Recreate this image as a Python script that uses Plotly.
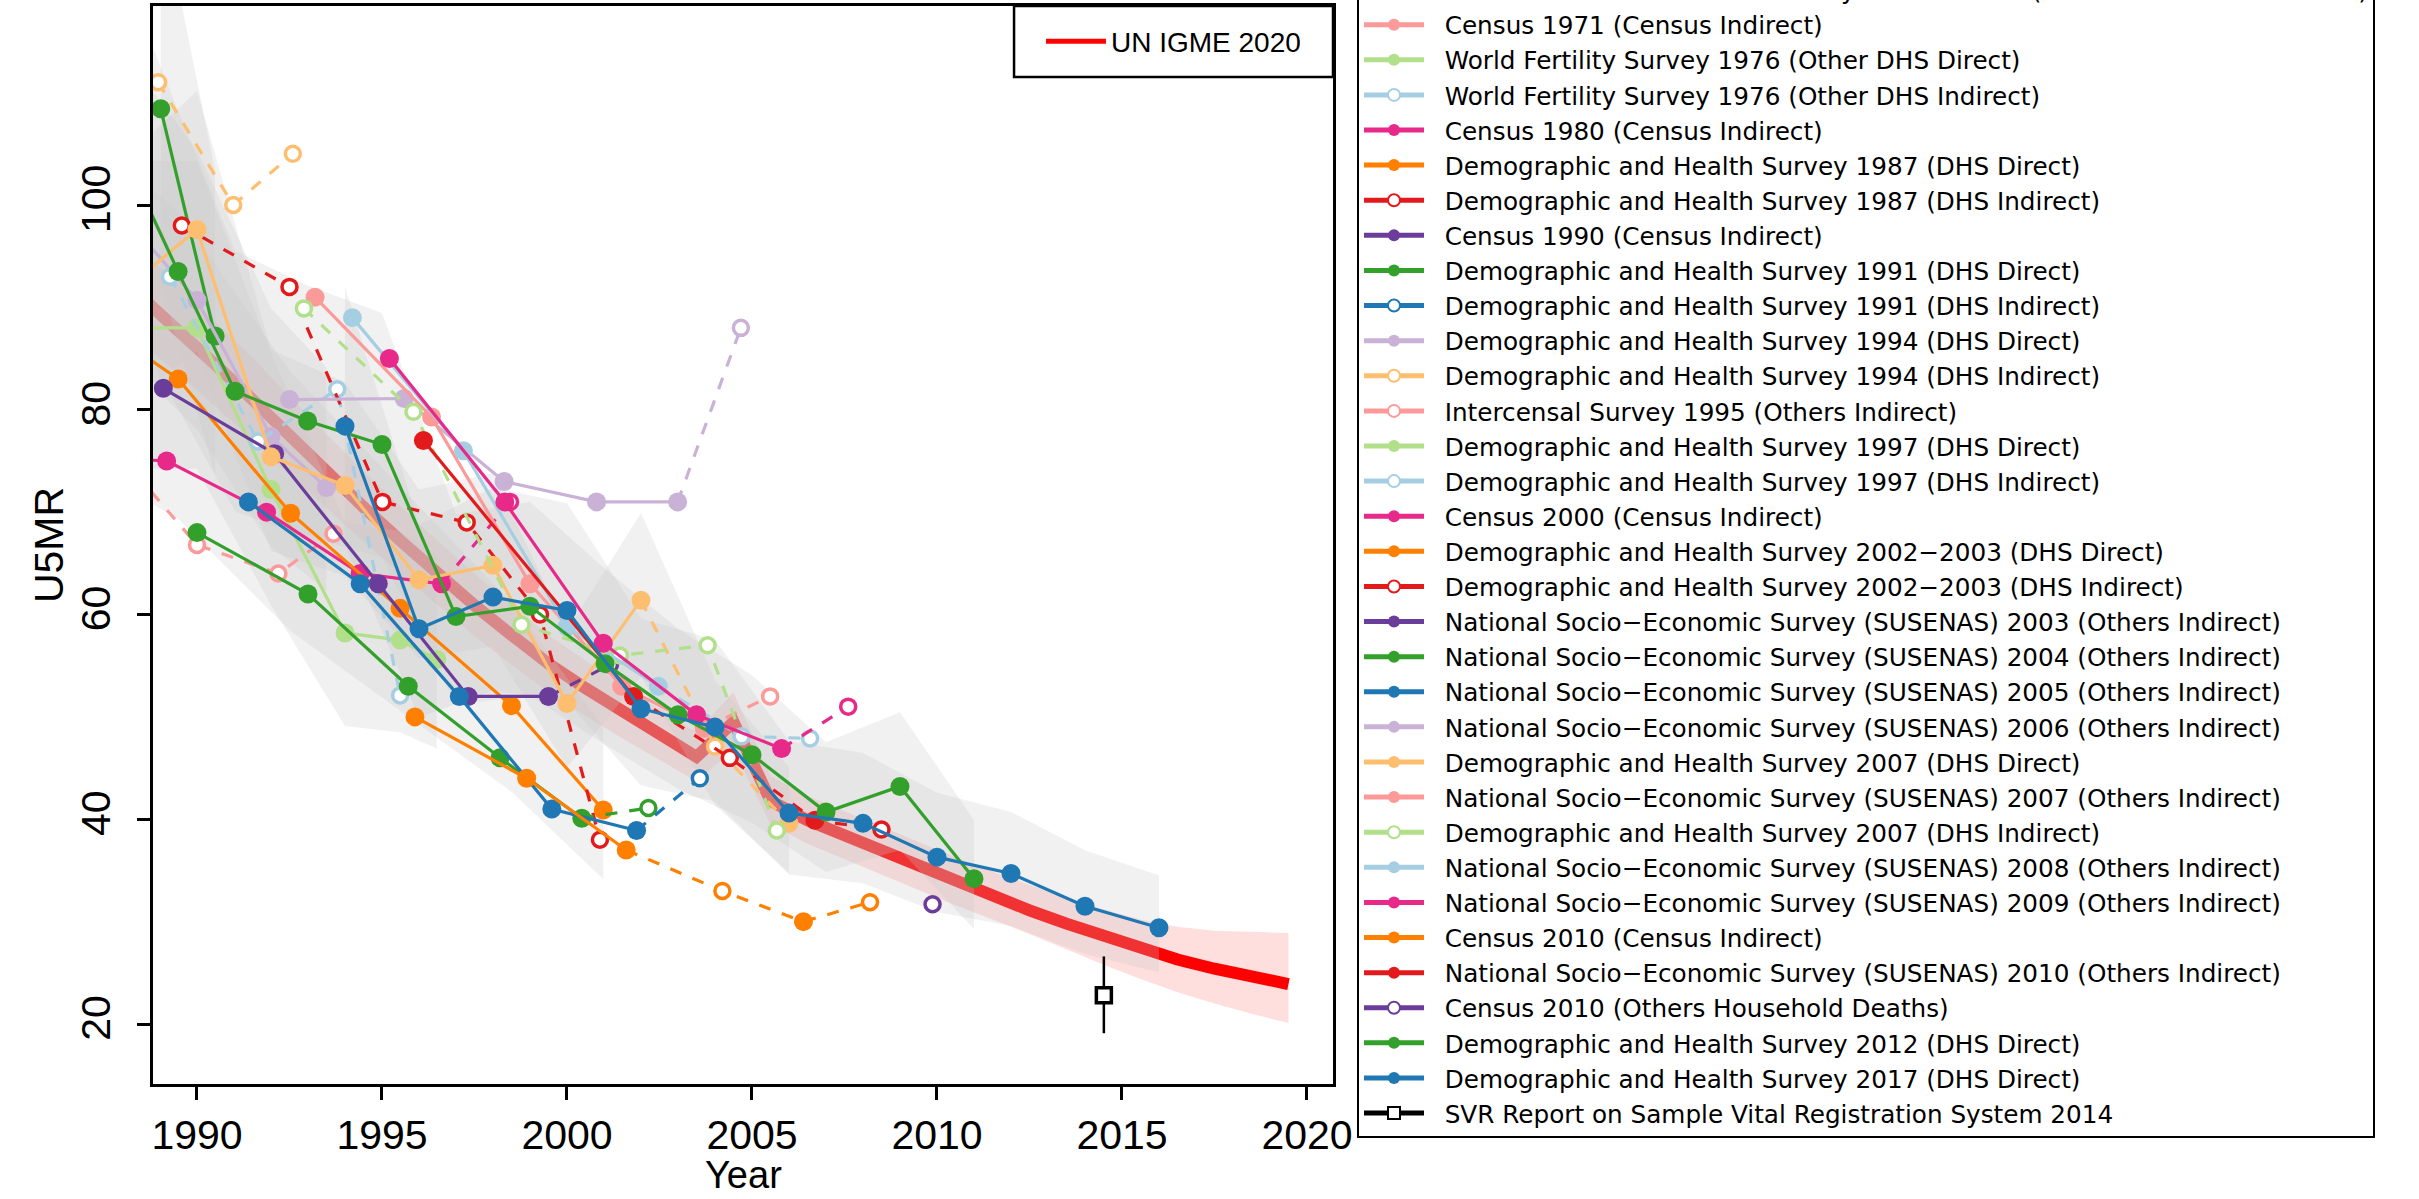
import math
import plotly.graph_objects as go

# ---------------------------------------------------------------------------
# Indonesia: under-five mortality rate (deaths per 1000 live births)
# ---------------------------------------------------------------------------

# UN IGME 2020 estimate with its uncertainty band
igme_year = [1988.5, 1989.5, 1990.5, 1991.5, 1992.5, 1993.5, 1994.5, 1995.5,
             1996.5, 1997.5, 1998.5, 1999.5, 2000.5, 2001.5, 2002.5, 2003.5,
             2004.5, 2005.5, 2006.5, 2007.5, 2008.5, 2009.5, 2010.5, 2011.5,
             2012.5, 2013.5, 2014.5, 2015.5, 2016.5, 2017.5, 2018.5, 2019.5]
igme_u5mr = [91.0, 87.8, 84.4, 81.0, 77.4, 73.9, 70.5, 67.2,
             64.0, 60.9, 58.0, 55.2, 52.8, 50.5, 48.3, 46.1,
             49.5, 41.8, 39.9, 38.4, 36.9, 35.4, 33.9, 32.5,
             31.1, 29.8, 28.6, 27.4, 26.3, 25.4, 24.6, 23.9]
igme_lower = [86.5, 83.5, 80.3, 77.1, 73.7, 70.4, 67.1, 64.0,
              60.9, 57.9, 55.1, 52.4, 50.1, 47.9, 45.8, 43.7,
              46.8, 39.5, 37.6, 36.1, 34.6, 33.1, 31.6, 30.2,
              28.8, 27.3, 25.8, 24.4, 23.1, 22.0, 21.0, 20.1]
igme_upper = [95.6, 92.2, 88.6, 85.1, 81.3, 77.6, 74.0, 70.6,
              67.2, 64.0, 60.9, 58.0, 55.5, 53.1, 50.8, 48.5,
              52.4, 44.2, 42.3, 40.8, 39.3, 37.8, 36.3, 34.9,
              33.6, 32.3, 31.2, 30.2, 29.5, 29.1, 29.0, 28.9]

# Survey / census series: reference year, U5MR, excluded flag (1 = excluded)
dhs1991d_year = [1989.02, 1990.49]
dhs1991d_u5mr = [109.4, 87.2]
dhs1991d_excl = [0, 0]

dhs1994d_year = [1988.0, 1990.0, 1992.0, 1993.5]
dhs1994d_u5mr = [99.0, 90.7, 77.4, 72.4]
dhs1994d_excl = [0, 0, 0, 0]

dhs1994i_year = [1988.95, 1990.98, 1992.59]
dhs1994i_u5mr = [112.0, 100.0, 105.0]
dhs1994i_excl = [1, 1, 1]

ics1995_year = [1987.5, 1990.0, 1992.2, 1993.69]
ics1995_u5mr = [77.3, 66.8, 64.0, 67.9]
ics1995_excl = [1, 1, 1, 1]

dhs1997d_year = [1988.0, 1990.0, 1992.0, 1994.0, 1995.49, 1996.48]
dhs1997d_u5mr = [88.0, 88.0, 72.2, 58.2, 57.5, 55.6]
dhs1997d_excl = [0, 0, 0, 0, 0, 0]

dhs1997i_year = [1989.27, 1991.65, 1993.79, 1995.49]
dhs1997i_u5mr = [93.0, 76.9, 82.0, 52.1]
dhs1997i_excl = [1, 1, 1, 1]

census2000_year = [1986.5, 1989.18, 1991.88, 1994.41, 1996.61, 1998.46]
census2000_u5mr = [75.5, 75.0, 70.0, 64.0, 63.0, 71.0]
census2000_excl = [0, 0, 0, 0, 0, 1]

dhs2002d_year = [1986.5, 1989.49, 1992.53, 1995.49, 1998.5, 2000.98]
dhs2002d_u5mr = [90.5, 83.0, 69.9, 60.6, 51.1, 40.9]
dhs2002d_excl = [0, 0, 0, 0, 0, 0]

dhs2002i_year = [1989.59, 1992.5, 1995.01, 1997.29, 1999.27, 2000.89]
dhs2002i_u5mr = [98.0, 92.0, 71.0, 69.0, 60.0, 38.0]
dhs2002i_excl = [1, 1, 1, 1, 1, 1]

sus2003_year = [1989.09, 1992.1, 1994.9, 1997.33, 1999.5, 2001.16]
sus2003_u5mr = [82.1, 75.7, 63.0, 52.0, 52.0, 55.1]
sus2003_excl = [0, 0, 0, 0, 0, 1]

sus2004_year = [1990.0, 1993.0, 1995.71, 1998.19, 2000.4, 2002.2]
sus2004_u5mr = [68.0, 62.0, 53.0, 46.0, 40.1, 41.1]
sus2004_excl = [0, 0, 0, 0, 0, 1]

sus2005_year = [1991.39, 1994.41, 1997.09, 1999.59, 2001.88, 2003.59]
sus2005_u5mr = [71.0, 63.0, 52.0, 41.0, 38.9, 44.0]
sus2005_excl = [0, 0, 0, 0, 0, 1]

sus2006_year = [1992.5, 1995.6, 1998.3, 2000.8, 2002.99, 2004.7]
sus2006_u5mr = [81.0, 81.1, 73.0, 71.0, 71.0, 88.0]
sus2006_excl = [0, 0, 0, 0, 0, 1]

dhs2007d_year = [1988.0, 1990.0, 1992.0, 1994.0, 1996.0, 1998.0, 2000.0,
                 2002.0, 2004.0, 2006.0]
dhs2007d_u5mr = [91.6, 97.6, 75.4, 72.6, 63.4, 64.8, 51.3, 61.4, 47.1, 39.6]
dhs2007d_excl = [0, 0, 0, 0, 0, 0, 0, 0, 1, 0]

sus2007_year = [1993.19, 1996.34, 1999.0, 2001.48, 2003.71, 2005.49]
sus2007_u5mr = [91.0, 79.3, 63.0, 53.0, 48.9, 52.0]
sus2007_excl = [0, 0, 0, 0, 0, 1]

dhs2007i_year = [1992.89, 1995.85, 1998.77, 2001.43, 2003.8, 2005.67]
dhs2007i_u5mr = [89.9, 79.8, 59.0, 56.0, 57.0, 38.9]
dhs2007i_excl = [1, 1, 1, 1, 1, 1]

sus2008_year = [1994.2, 1997.2, 2000.0, 2002.47, 2004.72, 2006.57]
sus2008_u5mr = [89.0, 76.0, 58.8, 53.0, 48.1, 47.9]
sus2008_excl = [0, 0, 0, 0, 1, 1]

sus2009_year = [1995.2, 1998.32, 2000.98, 2003.5, 2005.8, 2007.6]
sus2009_u5mr = [85.0, 71.0, 57.2, 50.2, 46.9, 51.0]
sus2009_excl = [0, 0, 0, 0, 0, 1]

census2010_year = [1995.89, 1998.91, 2001.6, 2004.2, 2006.39, 2008.19]
census2010_u5mr = [50.0, 44.0, 37.0, 33.0, 30.0, 31.9]
census2010_excl = [0, 0, 0, 1, 0, 1]

sus2010_year = [1996.12, 2001.8, 2004.4, 2006.7, 2008.5]
sus2010_u5mr = [77.0, 52.0, 46.0, 39.9, 39.0]
sus2010_excl = [0, 0, 1, 0, 1]

census2010hh_year = [2009.88]
census2010hh_u5mr = [31.7]
census2010hh_excl = [1]

dhs2012d_year = [1987.5, 1989.49, 1991.03, 1992.99, 1995.0, 1997.0, 1999.0,
                 2001.03, 2003.0, 2005.0, 2007.0, 2009.0, 2011.0]
dhs2012d_u5mr = [109.0, 93.5, 81.8, 78.9, 76.6, 59.8, 60.8, 55.2, 50.2,
                 46.3, 40.7, 43.2, 34.2]
dhs2012d_excl = [0] * 13

dhs2017d_year = [1994.0, 1996.0, 1998.0, 2000.0, 2002.0, 2004.0, 2006.0,
                 2008.0, 2010.0, 2012.0, 2014.0, 2016.0]
dhs2017d_u5mr = [78.4, 58.6, 61.7, 60.4, 50.8, 49.0, 40.6, 39.6, 36.3,
                 34.7, 31.5, 29.4]
dhs2017d_excl = [0] * 12

svr2014_year = [2014.51]
svr2014_u5mr = [22.8]
svr2014_low = [19.1]
svr2014_high = [26.6]

# Relative sampling error (log scale) of the direct estimates -> grey bands
rel_se = {
    "dhs1991d": 0.17, "dhs1994d": 0.15, "dhs1997d": 0.17, "dhs2002d": 0.18,
    "dhs2007d": 0.13, "dhs2012d": 0.155, "dhs2017d": 0.16,
}

# Colour set
LBLUE, BLUE = "#A6CEE3", "#1F78B4"
LGREEN, GREEN = "#B2DF8A", "#33A02C"
PINK, RED = "#FB9A99", "#E31A1C"
LORANGE, ORANGE = "#FDBF6F", "#FF7F00"
LPURPLE, PURPLE = "#CAB2D6", "#6A3D9A"
MAGENTA = "#E7298A"

M = "\u2212"  # minus sign used in the labels
SUS = "National Socio" + M + "Economic Survey (SUSENAS) {} (Others Indirect)"

# key, legend label, colour, hollow symbol, years, values, excluded
sources = [
    ("nses", "National Socio" + M + "Economic Survey Module 2011 (Others Household Deaths)",
     LORANGE, True, [], [], []),
    ("c1971", "Census 1971 (Census Indirect)", PINK, False, [], [], []),
    ("wfs_d", "World Fertility Survey 1976 (Other DHS Direct)", LGREEN, False, [], [], []),
    ("wfs_i", "World Fertility Survey 1976 (Other DHS Indirect)", LBLUE, True, [], [], []),
    ("c1980", "Census 1980 (Census Indirect)", MAGENTA, False, [], [], []),
    ("dhs1987d", "Demographic and Health Survey 1987 (DHS Direct)", ORANGE, False, [], [], []),
    ("dhs1987i", "Demographic and Health Survey 1987 (DHS Indirect)", RED, True, [], [], []),
    ("c1990", "Census 1990 (Census Indirect)", PURPLE, False, [], [], []),
    ("dhs1991d", "Demographic and Health Survey 1991 (DHS Direct)", GREEN, False,
     dhs1991d_year, dhs1991d_u5mr, dhs1991d_excl),
    ("dhs1991i", "Demographic and Health Survey 1991 (DHS Indirect)", BLUE, True, [], [], []),
    ("dhs1994d", "Demographic and Health Survey 1994 (DHS Direct)", LPURPLE, False,
     dhs1994d_year, dhs1994d_u5mr, dhs1994d_excl),
    ("dhs1994i", "Demographic and Health Survey 1994 (DHS Indirect)", LORANGE, True,
     dhs1994i_year, dhs1994i_u5mr, dhs1994i_excl),
    ("ics1995", "Intercensal Survey 1995 (Others Indirect)", PINK, True,
     ics1995_year, ics1995_u5mr, ics1995_excl),
    ("dhs1997d", "Demographic and Health Survey 1997 (DHS Direct)", LGREEN, False,
     dhs1997d_year, dhs1997d_u5mr, dhs1997d_excl),
    ("dhs1997i", "Demographic and Health Survey 1997 (DHS Indirect)", LBLUE, True,
     dhs1997i_year, dhs1997i_u5mr, dhs1997i_excl),
    ("c2000", "Census 2000 (Census Indirect)", MAGENTA, False,
     census2000_year, census2000_u5mr, census2000_excl),
    ("dhs2002d", "Demographic and Health Survey 2002" + M + "2003 (DHS Direct)", ORANGE, False,
     dhs2002d_year, dhs2002d_u5mr, dhs2002d_excl),
    ("dhs2002i", "Demographic and Health Survey 2002" + M + "2003 (DHS Indirect)", RED, True,
     dhs2002i_year, dhs2002i_u5mr, dhs2002i_excl),
    ("sus2003", SUS.format(2003), PURPLE, False, sus2003_year, sus2003_u5mr, sus2003_excl),
    ("sus2004", SUS.format(2004), GREEN, False, sus2004_year, sus2004_u5mr, sus2004_excl),
    ("sus2005", SUS.format(2005), BLUE, False, sus2005_year, sus2005_u5mr, sus2005_excl),
    ("sus2006", SUS.format(2006), LPURPLE, False, sus2006_year, sus2006_u5mr, sus2006_excl),
    ("dhs2007d", "Demographic and Health Survey 2007 (DHS Direct)", LORANGE, False,
     dhs2007d_year, dhs2007d_u5mr, dhs2007d_excl),
    ("sus2007", SUS.format(2007), PINK, False, sus2007_year, sus2007_u5mr, sus2007_excl),
    ("dhs2007i", "Demographic and Health Survey 2007 (DHS Indirect)", LGREEN, True,
     dhs2007i_year, dhs2007i_u5mr, dhs2007i_excl),
    ("sus2008", SUS.format(2008), LBLUE, False, sus2008_year, sus2008_u5mr, sus2008_excl),
    ("sus2009", SUS.format(2009), MAGENTA, False, sus2009_year, sus2009_u5mr, sus2009_excl),
    ("c2010", "Census 2010 (Census Indirect)", ORANGE, False,
     census2010_year, census2010_u5mr, census2010_excl),
    ("sus2010", SUS.format(2010), RED, False, sus2010_year, sus2010_u5mr, sus2010_excl),
    ("c2010hh", "Census 2010 (Others Household Deaths)", PURPLE, True,
     census2010hh_year, census2010hh_u5mr, census2010hh_excl),
    ("dhs2012d", "Demographic and Health Survey 2012 (DHS Direct)", GREEN, False,
     dhs2012d_year, dhs2012d_u5mr, dhs2012d_excl),
    ("dhs2017d", "Demographic and Health Survey 2017 (DHS Direct)", BLUE, False,
     dhs2017d_year, dhs2017d_u5mr, dhs2017d_excl),
]

LINE_W = 3.2
DASH = "12px,12px"
PAD = "\u00a0\u00a0"

fig = go.Figure()

# UN IGME uncertainty band and median line (drawn first, greyed by the bands)
fig.add_trace(go.Scatter(
    x=igme_year + igme_year[::-1], y=igme_upper + igme_lower[::-1],
    fill="toself", fillcolor="rgba(255,0,0,0.13)", line=dict(width=0),
    mode="lines", hoverinfo="skip", showlegend=False))
fig.add_trace(go.Scatter(
    x=igme_year, y=igme_u5mr, mode="lines", name="UN IGME 2020",
    line=dict(color="#FF0000", width=12), legend="legend2"))

# Grey sampling-error bands of the direct estimates
for key, label, colour, hollow, years, vals, excl in sources:
    if key in rel_se and years:
        w = rel_se[key]
        up = [v * math.exp(w) for v in vals]
        lo = [v * math.exp(-w) for v in vals]
        fig.add_trace(go.Scatter(
            x=years + years[::-1], y=up + lo[::-1], fill="toself",
            fillcolor="rgba(200,200,200,0.25)", line=dict(width=0),
            mode="lines", hoverinfo="skip", showlegend=False))


def filled_marker(colour):
    return dict(symbol="circle", size=19, color=colour, line=dict(width=0))


def open_marker(colour):
    return dict(symbol="circle", size=15, color="white",
                line=dict(color=colour, width=3.5))


for rank, (key, label, colour, hollow, years, vals, excl) in enumerate(sources):
    name = PAD + label
    if not years:
        fig.add_trace(go.Scatter(
            x=[None], y=[None], mode="lines+markers", name=name, legendrank=rank,
            line=dict(color=colour, width=LINE_W),
            marker=open_marker(colour) if hollow else filled_marker(colour)))
        continue

    # dashed segments touching an excluded point
    dx, dy = [], []
    for i in range(len(years) - 1):
        if excl[i] or excl[i + 1]:
            if dx and dx[-1] == years[i]:
                dx.append(years[i + 1]); dy.append(vals[i + 1])
            else:
                if dx:
                    dx.append(None); dy.append(None)
                dx += [years[i], years[i + 1]]
                dy += [vals[i], vals[i + 1]]
    if dx:
        fig.add_trace(go.Scatter(
            x=dx, y=dy, mode="lines", showlegend=False, hoverinfo="skip",
            line=dict(color=colour, width=LINE_W, dash=DASH)))

    # included points: solid line and filled circles
    if not all(excl):
        sx = [x if not e else None for x, e in zip(years, excl)]
        sy = [v if not e else None for v, e in zip(vals, excl)]
        fig.add_trace(go.Scatter(
            x=sx, y=sy, mode="lines+markers", name=name, legendrank=rank,
            showlegend=not hollow, legendgroup=key,
            line=dict(color=colour, width=LINE_W), marker=filled_marker(colour)))

    # excluded points: open circles (isolated points, so only the legend
    # glyph carries a line)
    ox, oy = [], []
    for x, v, e in zip(years, vals, excl):
        if e:
            ox += [x, None]; oy += [v, None]
    if ox:
        fig.add_trace(go.Scatter(
            x=ox, y=oy, mode="lines+markers", name=name, legendrank=rank,
            showlegend=hollow, legendgroup=key,
            line=dict(color=colour, width=LINE_W),
            marker=open_marker(colour)))

# Sample Vital Registration point with its interval
fig.add_trace(go.Scatter(
    x=svr2014_year, y=svr2014_u5mr, mode="lines+markers",
    name=PAD + "SVR Report on Sample Vital Registration System 2014",
    legendrank=len(sources),
    line=dict(color="black", width=LINE_W),
    marker=dict(symbol="square", size=15, color="white",
                line=dict(color="black", width=3.5)),
    error_y=dict(type="data", symmetric=False,
                 array=[h - v for h, v in zip(svr2014_high, svr2014_u5mr)],
                 arrayminus=[v - l for l, v in zip(svr2014_low, svr2014_u5mr)],
                 color="black", thickness=2.5, width=0)))

AX_FONT = dict(family="Liberation Sans, Arial, Helvetica, sans-serif", size=41, color="black")
TITLE_FONT = dict(family="Liberation Sans, Arial, Helvetica, sans-serif", size=38, color="black")
axis_common = dict(showline=True, linecolor="black", linewidth=2.5, mirror=True,
                   ticks="outside", ticklen=13, tickwidth=2.5, tickcolor="black",
                   showgrid=False, zeroline=False, tickfont=AX_FONT)

fig.update_layout(
    width=2419, height=1199,
    margin=dict(l=153, r=1086, t=6, b=115, autoexpand=False),
    paper_bgcolor="white", plot_bgcolor="white",
    font=AX_FONT,
    xaxis=dict(range=[1988.811, 2020.703],
               tickvals=[1990, 1995, 2000, 2005, 2010, 2015, 2020],
               ticklabelstandoff=0,
               **axis_common),
    yaxis=dict(range=[14.14, 119.44], tickvals=[20, 40, 60, 80, 100],
               tickangle=-90, ticklabelstandoff=11,
               **axis_common),
    annotations=[
        dict(text="Year", xref="paper", yref="paper",
             x=0.5, y=-0.0844, xanchor="center", yanchor="middle",
             showarrow=False, font=TITLE_FONT),
        dict(text="U5MR", textangle=-90, xref="paper", yref="paper",
             x=-0.0881, y=0.5, xanchor="center", yanchor="middle",
             showarrow=False, font=AX_FONT),
    ],
    legend=dict(x=1.02034, xanchor="left", y=-0.0501, yanchor="bottom",
                bgcolor="white", bordercolor="black", borderwidth=2,
                font=dict(family="DejaVu Sans", size=24.7, color="black"),
                itemsizing="constant", itemwidth=60, traceorder="normal",
                maxheight=3000),
    legend2=dict(x=0.8648, xanchor="center", y=0.96707, yanchor="middle",
                 bgcolor="rgba(0,0,0,0)", borderwidth=0,
                 font=dict(family="Liberation Sans, Arial, sans-serif", size=28,
                           color="black"),
                 itemsizing="constant", itemwidth=60),
    shapes=[dict(type="rect", xref="paper", yref="paper",
                 x0=0.7297, x1=1.0, y0=0.93414, y1=1.0,
                 line=dict(color="black", width=2.5), fillcolor="white",
                 layer="above")],
    showlegend=True,
)

fig.write_html("out.html")
